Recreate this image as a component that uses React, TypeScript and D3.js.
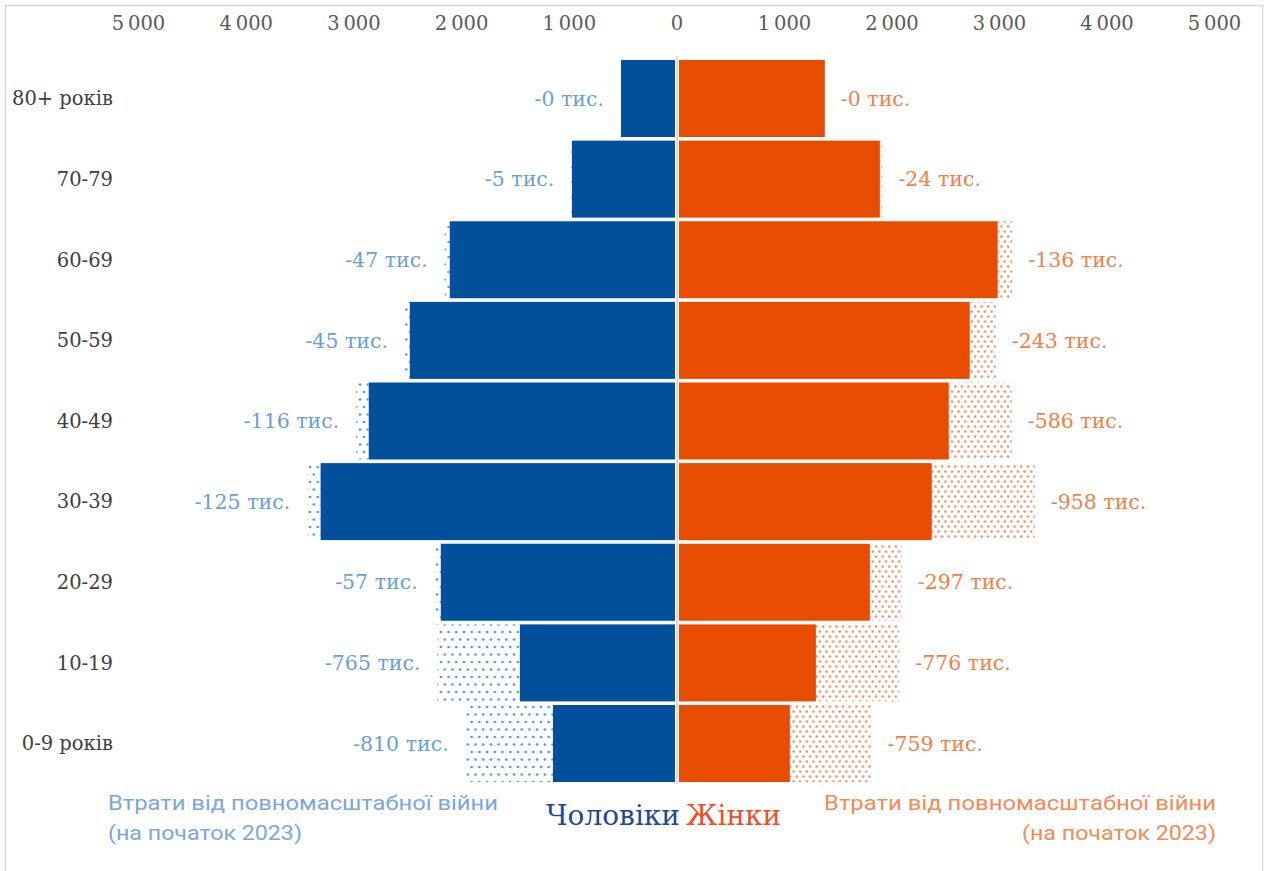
import React from "react";
import * as d3 from "d3";

const categories = ["80+ років", "70-79", "60-69", "50-59", "40-49", "30-39", "20-29", "10-19", "0-9 років"];
const menValues = [520, 976, 2110, 2481, 2862, 3309, 2193, 1459, 1152];
const womenValues = [1375, 1887, 2983, 2723, 2528, 2370, 1794, 1292, 1050];
const menLosses = [0, 5, 47, 45, 116, 125, 57, 765, 810];
const womenLosses = [0, 24, 136, 243, 586, 958, 297, 776, 759];
const tickValues = [0, 1000, 2000, 3000, 4000, 5000];

const W = 1268;
const H = 871;

const C = {
  men: "#02509b",
  women: "#e84c00",
  menLabel: "#6a9ed8",
  womenLabel: "#f27e48",
  menDot: "#5a94d6",
  womenDot: "#f2915f",
  tick: "#595959",
  cat: "#404040",
  legMen: "#7aa7dc",
  legWomen: "#f48a55",
  titleMen: "#1f4a8e",
  titleWomen: "#e8522a",
};

const serif = "'DejaVu Serif', serif";
const sans = "Roboto, 'Liberation Sans', sans-serif";

export default function App() {
  const x0 = 677;
  const xR = d3.scaleLinear().domain([0, 5000]).range([x0, x0 + 537.5]);
  const xL = d3.scaleLinear().domain([0, 5000]).range([x0, x0 - 538.5]);
  const y = d3.scaleBand<string>().domain(categories).range([60, 782]).paddingInner(0.045);
  const bw = y.bandwidth();
  const fmt = (v: number) => (v === 0 ? "0" : d3.format(",")(v).replace(/,/g, "\u202f"));

  return (
    <svg
      width={W}
      height={H}
      style={{ position: "absolute", left: 0, top: 0, background: "#fff" }}
    >
      <defs>
        <pattern id="menDots" width={7.7} height={15} patternUnits="userSpaceOnUse">
          <circle cx={2} cy={2} r={1.35} fill={C.menDot} />
          <circle cx={5.85} cy={9.5} r={1.35} fill={C.menDot} />
        </pattern>
        <pattern id="womenDots" width={6.6} height={10} patternUnits="userSpaceOnUse">
          <circle cx={1.6} cy={1.6} r={1.3} fill={C.womenDot} />
          <circle cx={4.9} cy={6.6} r={1.3} fill={C.womenDot} />
        </pattern>
      </defs>
      <rect x={5.5} y={5.5} width={1257} height={900} fill="none" stroke="#d9d9d9" strokeWidth={1.5} />

      {/* top axis labels */}
      {tickValues.map((t) => (
        <text
          key={"r" + t}
          x={xR(t)}
          y={30}
          textAnchor="middle"
          fontFamily={serif}
          fontSize={19.5}
          fill={C.tick}
        >
          {fmt(t)}
        </text>
      ))}
      {tickValues.slice(1).map((t) => (
        <text
          key={"l" + t}
          x={xL(t)}
          y={30}
          textAnchor="middle"
          fontFamily={serif}
          fontSize={19.5}
          fill={C.tick}
        >
          {fmt(t)}
        </text>
      ))}

      {/* center line */}
      <line x1={x0} x2={x0} y1={56} y2={784} stroke="#d0d0d0" strokeWidth={1.5} />

      {categories.map((c, i) => {
        const yy = y(c)!;
        const cy = yy + bw / 2;
        const mEnd = xL(menValues[i]);
        const mTot = xL(menValues[i] + menLosses[i]);
        const wEnd = xR(womenValues[i]);
        const wTot = xR(womenValues[i] + womenLosses[i]);
        return (
          <g key={c}>
            {menLosses[i] > 0 && (
              <rect x={mTot} y={yy} width={mEnd - mTot} height={bw} fill="url(#menDots)" />
            )}
            {womenLosses[i] > 0 && (
              <rect x={wEnd} y={yy} width={wTot - wEnd} height={bw} fill="url(#womenDots)" />
            )}
            <rect x={mEnd} y={yy} width={x0 - 2 - mEnd} height={bw} fill={C.men} />
            <rect x={x0 + 2} y={yy} width={wEnd - x0 - 2} height={bw} fill={C.women} />
            <text
              x={113}
              y={cy}
              dy="0.35em"
              textAnchor="end"
              fontFamily={serif}
              fontSize={19.5}
              fill={C.cat}
            >
              {c}
            </text>
            <text
              x={mTot - 17}
              y={cy}
              dy="0.35em"
              textAnchor="end"
              fontFamily={serif}
              fontSize={20.5}
              fill={C.menLabel}
            >
              {`-${menLosses[i]} тис.`}
            </text>
            <text
              x={wTot + 16}
              y={cy}
              dy="0.35em"
              textAnchor="start"
              fontFamily={serif}
              fontSize={20.5}
              fill={C.womenLabel}
            >
              {`-${womenLosses[i]} тис.`}
            </text>
          </g>
        );
      })}

      {/* legend */}
      <text x={108} y={810} fontFamily={sans} fontSize={20} fill={C.legMen} textLength={390} lengthAdjust="spacingAndGlyphs">
        Втрати від повномасштабної війни
      </text>
      <text x={108} y={840} fontFamily={sans} fontSize={20} fill={C.legMen} textLength={194} lengthAdjust="spacingAndGlyphs">
        (на початок 2023)
      </text>
      <text x={1216} y={810} textAnchor="end" fontFamily={sans} fontSize={20} fill={C.legWomen} textLength={392} lengthAdjust="spacingAndGlyphs">
        Втрати від повномасштабної війни
      </text>
      <text x={1216} y={840} textAnchor="end" fontFamily={sans} fontSize={20} fill={C.legWomen} textLength={194} lengthAdjust="spacingAndGlyphs">
        (на початок 2023)
      </text>
      <text x={680} y={825} textAnchor="end" fontFamily={serif} fontSize={28} fill={C.titleMen}>
        Чоловіки
      </text>
      <text x={686} y={825} textAnchor="start" fontFamily={serif} fontSize={28} fill={C.titleWomen}>
        Жінки
      </text>
    </svg>
  );
}
